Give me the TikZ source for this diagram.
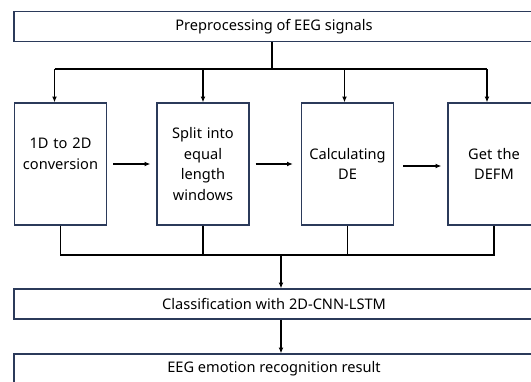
\documentclass[tikz,border=0pt]{standalone}
\usepackage{fontspec}
\setmainfont{Noto Sans}
\usepackage{tikz}
\usetikzlibrary{arrows.meta}
\definecolor{boxline}{HTML}{2B3A5A}
\tikzstyle{widebox}=[draw=boxline, line width=1.3pt, minimum width=520pt, minimum height=30pt, inner sep=0pt, font=\fontsize{14.6}{16}\selectfont]
\tikzstyle{stepbox}=[draw=boxline, line width=1.3pt, minimum width=92pt, minimum height=122pt, text width=90pt, align=center, inner sep=0pt, font=\fontsize{14.6}{20.5}\selectfont]
\tikzstyle{arrow}=[draw=black, line width=1.2pt, -{Latex[length=2mm,width=1.7mm]}]
\tikzstyle{line}=[draw=black, line width=1.2pt]

\begin{document}
\begin{tikzpicture}[x=1pt, y=-1pt]
		   \useasboundingbox (0,0) rectangle (531,381);
		   \clip (0,0) rectangle (531,381);
		   \begin{scope}
			   \node (pre) at (274, 26.5)[widebox] {Preprocessing of EEG signals};
			   \node (1) at (60.5, 164)[stepbox] {1D to 2D\\conversion\\ \mbox{}};
			   \node (2) at (203, 164)[stepbox] {Split into\\equal\\length\\windows};
			   \node (3) at (347.5, 164)[stepbox] {Calculating\\DE};
			   \node (4) at (494, 164)[stepbox] {Get the\\DEFM};
			   \node (cls) at (274, 304)[widebox] {Classification with 2D-CNN-LSTM};
			   \node (res) at (274, 369)[widebox] {EEG emotion recognition result};
			   \coordinate (top) at (272, 69);
			   \coordinate (bot) at (281, 255);
		   \end{scope}
		   \begin{scope}
			   % fan out to the four steps
			   \path [line] (pre.south -| top) -- (top);
			   \path [line] ([xshift=-6pt]1.north |- top) -- ([xshift=-7pt]4.north |- top);
			   \path [arrow] ([xshift=-6pt]1.north |- top) -- ([xshift=-6pt]1.north);
			   \path [arrow] (2.north |- top) -- (2.north);
			   \path [arrow] ([xshift=-3pt]3.north |- top) -- ([xshift=-3pt]3.north);
			   \path [arrow] ([xshift=-7pt]4.north |- top) -- ([xshift=-7pt]4.north);
			   % step to step
			   \path [arrow] ([xshift=6pt]1.east) -- ([xshift=-6pt]2.west);
			   \path [arrow] ([xshift=6pt]2.east) -- ([xshift=-8pt]3.west);
			   \path [arrow] ([xshift=9pt,yshift=-2pt]3.east) -- ([xshift=-6pt,yshift=-2pt]4.west);
			   % gather
			   \path [line] (1.south) -- (1.south |- bot) -- (4.south |- bot) -- (4.south);
			   \path [line] (2.south) -- (2.south |- bot);
			   \path [line] (3.south) -- (3.south |- bot);
			   \path [arrow] (bot) -- (cls.north -| bot);
			   \path [arrow] (cls.south -| bot) -- (res.north -| bot);
		   \end{scope}
	   \end{tikzpicture}
\end{document}
